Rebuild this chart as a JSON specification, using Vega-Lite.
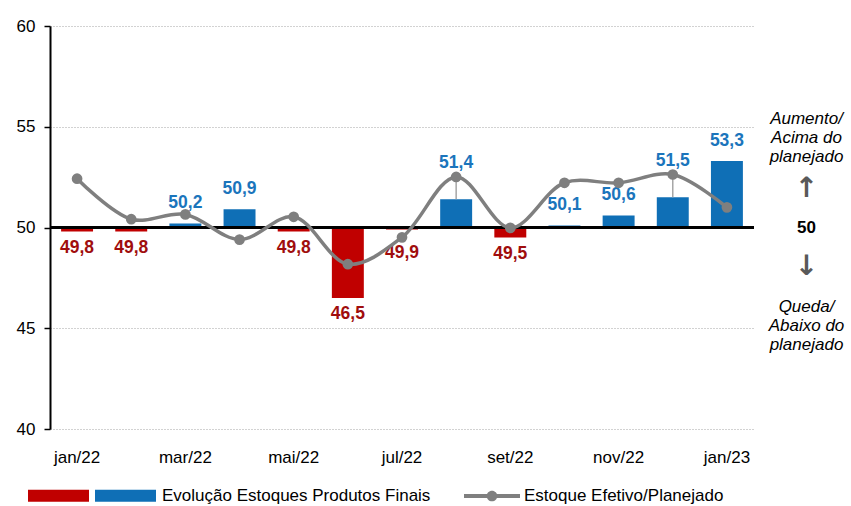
{
  "$schema": "https://vega.github.io/schema/vega-lite/v6.json",
  "width": 704,
  "height": 403,
  "autosize": {"type": "none"},
  "padding": {"left": 50, "top": 26, "right": 97, "bottom": 77},
  "background": "white",
  "config": {
    "view": {"stroke": null},
    "font": "Liberation Sans, Arial, sans-serif"
  },
  "data": {
    "values": [
      {"mes": "jan/22", "estoque": 49.8, "efetivo": 52.42},
      {"mes": "fev/22", "estoque": 49.8, "efetivo": 50.41},
      {"mes": "mar/22", "estoque": 50.2, "efetivo": 50.65},
      {"mes": "abr/22", "estoque": 50.9, "efetivo": 49.4},
      {"mes": "mai/22", "estoque": 49.8, "efetivo": 50.53},
      {"mes": "jun/22", "estoque": 46.5, "efetivo": 48.18},
      {"mes": "jul/22", "estoque": 49.9, "efetivo": 49.51},
      {"mes": "ago/22", "estoque": 51.4, "efetivo": 52.51},
      {"mes": "set/22", "estoque": 49.5, "efetivo": 49.98},
      {"mes": "out/22", "estoque": 50.1, "efetivo": 52.22},
      {"mes": "nov/22", "estoque": 50.6, "efetivo": 52.22},
      {"mes": "dez/22", "estoque": 51.5, "efetivo": 52.63},
      {"mes": "jan/23", "estoque": 53.3, "efetivo": 51.0}
    ]
  },
  "resolve": {"axis": {"y": "independent"}},
  "layer": [
    {
      "transform": [{"calculate": "datum.estoque < 50 ? 'neg' : 'pos'", "as": "sinal"}],
      "mark": {"type": "bar"},
      "encoding": {
        "x": {
          "field": "mes", "type": "nominal", "sort": null,
          "scale": {"paddingInner": 0.41, "paddingOuter": 0.205},
          "axis": {
            "title": null, "domain": false, "ticks": false, "labelAngle": 0,
            "values": ["jan/22", "mar/22", "mai/22", "jul/22", "set/22", "nov/22", "jan/23"],
            "labelFontSize": 17, "labelColor": "black", "labelPadding": 20
          }
        },
        "y": {
          "field": "estoque", "type": "quantitative",
          "scale": {"domain": [40, 60], "nice": false, "zero": false},
          "axis": {
            "title": null, "values": [40, 45, 50, 55, 60],
            "domainColor": "black", "domainWidth": 2,
            "tickColor": "black", "tickSize": 6, "tickWidth": 1.5,
            "labelFontSize": 17, "labelColor": "black", "labelPadding": 9,
            "grid": true, "gridColor": "#A6A6A6", "gridDash": [1, 2], "gridWidth": 1.2
          }
        },
        "y2": {"datum": 50},
        "color": {
          "field": "sinal", "type": "nominal",
          "scale": {"domain": ["neg", "pos"], "range": ["#C00000", "#0F6FB6"]},
          "legend": {
            "orient": "none", "legendX": -22, "legendY": 439,
            "direction": "horizontal", "title": null,
            "symbolType": "M-1,-0.2H1V0.2H-1Z", "symbolSize": 3721,
            "symbolStrokeWidth": 0, "symbolOpacity": 1,
            "labelExpr": "datum.value == 'neg' ? '' : 'Evolução Estoques Produtos Finais'",
            "labelFontSize": 17, "labelColor": "black", "labelOffset": 6, "labelLimit": 500,
            "columnPadding": 0
          }
        }
      }
    },
    {
      "transform": [
        {"filter": "datum.estoque >= 50 && datum.mes != 'ago/22' && datum.mes != 'dez/22'"},
        {"calculate": "replace(format(datum.estoque, '.1f'), '.', ',')", "as": "rotulo"}
      ],
      "mark": {"type": "text", "baseline": "bottom", "dy": -11, "fontSize": 17.5, "fontWeight": "bold", "color": "#1B75BC"},
      "encoding": {
        "x": {"field": "mes", "type": "nominal", "sort": null},
        "y": {"field": "estoque", "type": "quantitative", "scale": {"domain": [40, 60], "nice": false, "zero": false}, "axis": null},
        "text": {"field": "rotulo"}
      }
    },
    {
      "transform": [
        {"filter": "datum.mes == 'ago/22' || datum.mes == 'dez/22'"},
        {"calculate": "replace(format(datum.estoque, '.1f'), '.', ',')", "as": "rotulo"}
      ],
      "mark": {"type": "text", "baseline": "bottom", "dy": -5, "fontSize": 17.5, "fontWeight": "bold", "color": "#1B75BC"},
      "encoding": {
        "x": {"field": "mes", "type": "nominal", "sort": null},
        "y": {"field": "efetivo", "type": "quantitative", "scale": {"domain": [40, 60], "nice": false, "zero": false}, "axis": null},
        "text": {"field": "rotulo"}
      }
    },
    {
      "transform": [
        {"filter": "datum.estoque < 50 && datum.mes != 'jul/22'"},
        {"calculate": "replace(format(datum.estoque, '.1f'), '.', ',')", "as": "rotulo"}
      ],
      "mark": {"type": "text", "baseline": "top", "dy": 7, "fontSize": 17.5, "fontWeight": "bold", "color": "#A00D0D"},
      "encoding": {
        "x": {"field": "mes", "type": "nominal", "sort": null},
        "y": {"field": "estoque", "type": "quantitative", "scale": {"domain": [40, 60], "nice": false, "zero": false}, "axis": null},
        "text": {"field": "rotulo"}
      }
    },
    {
      "transform": [
        {"filter": "datum.mes == 'jul/22'"},
        {"calculate": "replace(format(datum.estoque, '.1f'), '.', ',')", "as": "rotulo"}
      ],
      "mark": {"type": "text", "baseline": "top", "dy": 7, "fontSize": 17.5, "fontWeight": "bold", "color": "#A00D0D"},
      "encoding": {
        "x": {"field": "mes", "type": "nominal", "sort": null},
        "y": {"field": "efetivo", "type": "quantitative", "scale": {"domain": [40, 60], "nice": false, "zero": false}, "axis": null},
        "text": {"field": "rotulo"}
      }
    },
    {
      "transform": [{"filter": "datum.mes == 'ago/22' || datum.mes == 'dez/22'"}],
      "mark": {"type": "rule", "color": "#A6A6A6", "strokeWidth": 1.5},
      "encoding": {
        "x": {"field": "mes", "type": "nominal", "sort": null},
        "y": {"field": "estoque", "type": "quantitative", "scale": {"domain": [40, 60], "nice": false, "zero": false}, "axis": null},
        "y2": {"field": "efetivo"}
      }
    },
    {
      "mark": {"type": "rule", "color": "black", "strokeWidth": 3},
      "encoding": {
        "y": {
          "datum": 50, "type": "quantitative",
          "scale": {"domain": [40, 60], "nice": false, "zero": false},
          "axis": {
            "orient": "right", "title": null, "domain": false, "ticks": false, "tickSize": 0, "grid": false,
            "values": [55.43, 51.95, 50, 48.05, 46.1],
            "labelExpr": "datum.value == 50 ? '50' : datum.value > 53 ? ['Aumento/', 'Acima do', 'planejado'] : datum.value > 51 ? '↑' : datum.value > 47 ? '↓' : ['Queda/', 'Abaixo do', 'planejado']",
            "labelAlign": "center", "labelBaseline": "middle", "labelPadding": 52,
            "labelLineHeight": 19, "labelOverlap": false, "labelFlush": false, "labelBound": false,
            "labelFont": {"condition": {"test": "(datum.value > 51 && datum.value < 53) || (datum.value > 47 && datum.value < 49)", "value": "DejaVu Sans"}, "value": "Liberation Sans"},
            "labelFontSize": {"condition": {"test": "(datum.value > 51 && datum.value < 53) || (datum.value > 47 && datum.value < 49)", "value": 28}, "value": 17},
            "labelFontStyle": {"condition": {"test": "datum.value > 53 || datum.value < 47", "value": "italic"}, "value": "normal"},
            "labelFontWeight": {"condition": {"test": "datum.value < 53 && datum.value > 47", "value": "bold"}, "value": "normal"},
            "labelColor": {"condition": {"test": "(datum.value > 51 && datum.value < 53) || (datum.value > 47 && datum.value < 49)", "value": "#595959"}, "value": "black"}
          }
        }
      }
    },
    {
      "mark": {"type": "line", "interpolate": "catmull-rom", "strokeWidth": 3.5},
      "encoding": {
        "x": {"field": "mes", "type": "nominal", "sort": null},
        "y": {"field": "efetivo", "type": "quantitative", "scale": {"domain": [40, 60], "nice": false, "zero": false}, "axis": null},
        "stroke": {
          "datum": "Estoque Efetivo/Planejado", "type": "nominal",
          "scale": {"range": ["#7F7F7F"]},
          "legend": {
            "orient": "none", "legendX": 414, "legendY": 442, "title": null,
            "symbolType": "M-1,-0.07H1V0.07H-1Z M-0.19,0A0.19,0.19 0 1,1 0.19,0A0.19,0.19 0 1,1 -0.19,0Z",
            "symbolSize": 3136, "symbolStrokeWidth": 0, "symbolFillColor": "#7F7F7F",
            "labelFontSize": 17, "labelColor": "black", "labelOffset": 4, "labelLimit": 500,
            "encode": {"symbols": {"update": {"fill": {"value": "#7F7F7F"}, "strokeWidth": {"value": 0}}}}
          }
        }
      }
    },
    {
      "mark": {"type": "point", "filled": true, "size": 115, "opacity": 1, "color": "#7F7F7F"},
      "encoding": {
        "x": {"field": "mes", "type": "nominal", "sort": null},
        "y": {"field": "efetivo", "type": "quantitative", "scale": {"domain": [40, 60], "nice": false, "zero": false}, "axis": null}
      }
    }
  ]
}
